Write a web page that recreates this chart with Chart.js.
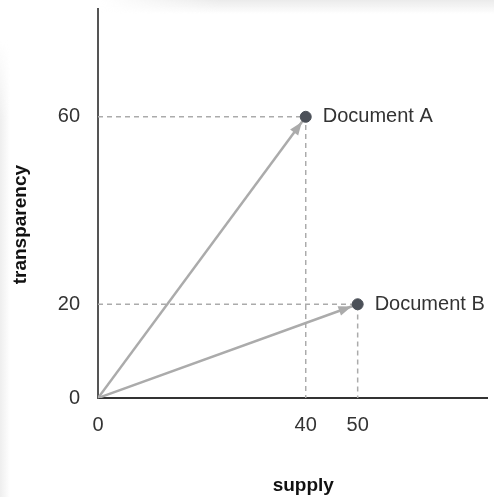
<!DOCTYPE html>
<html>
<head>
<meta charset="utf-8">
<script src="https://cdn.jsdelivr.net/npm/chart.js@4"></script>
<style>
  body { margin: 0; background: #fff; }
  #wrap { position: relative; width: 494px; height: 497px; overflow: hidden; }
  .shade-top { position: absolute; left: 100px; top: 0; width: 394px; height: 14px;
    background: linear-gradient(to bottom, #ebebeb, rgba(255,255,255,0));
    -webkit-mask-image: linear-gradient(to right, transparent, #000 120px);
    mask-image: linear-gradient(to right, transparent, #000 120px); }
  .shade-left { position: absolute; left: 0; top: 40px; width: 10px; height: 457px;
    background: linear-gradient(to right, #eeeeee, rgba(255,255,255,0));
    -webkit-mask-image: linear-gradient(to bottom, transparent, #000 80px);
    mask-image: linear-gradient(to bottom, transparent, #000 80px); }
  canvas { position: absolute; left: 0; top: 0; }
</style>
</head>
<body>
<div id="wrap">
  <div class="shade-top"></div>
  <div class="shade-left"></div>
  <canvas id="chart" width="494" height="497"></canvas>
</div>
<script>
// values
var docNames = ['Document A', 'Document B'];
var supply = [40, 50];
var transparency = [60, 20];
var xTicks = [0, 40, 50];
var yTicks = [0, 20, 60];

var arrowColor = '#ababab';
var guideColor = '#ababab';
var dotColor = '#4b5058';
var textColor = '#333333';
var fontFamily = '"Liberation Sans", Arial, Helvetica, sans-serif';

var datasets = [];

// dashed guide lines from each document to both axes
docNames.forEach(function (name, i) {
    datasets.push({
        type: 'line',
        label: name + ' guide',
        data: [{ x: 0, y: transparency[i] }, { x: supply[i], y: transparency[i] }, { x: supply[i], y: 0 }],
        borderColor: guideColor,
        borderWidth: 1.5,
        borderDash: [5, 4],
        pointRadius: 0,
        fill: false,
        order: 3
    });
});

// vectors from the origin
docNames.forEach(function (name, i) {
    datasets.push({
        type: 'line',
        label: name + ' vector',
        isArrow: true,
        data: [{ x: 0, y: 0 }, { x: supply[i], y: transparency[i] }],
        borderColor: arrowColor,
        borderWidth: 2.5,
        pointRadius: 0,
        fill: false,
        order: 2
    });
});

// the documents themselves
datasets.push({
    type: 'scatter',
    label: 'documents',
    isDocs: true,
    data: supply.map(function (s, i) { return { x: s, y: transparency[i] }; }),
    backgroundColor: dotColor,
    borderColor: dotColor,
    pointRadius: 5.5,
    pointHoverRadius: 5.5,
    order: 1
});

var arrowsAndLabels = {
    id: 'arrowsAndLabels',
    afterDatasetsDraw: function (chart) {
        var ctx = chart.ctx;
        ctx.save();
        chart.data.datasets.forEach(function (ds, di) {
            var meta = chart.getDatasetMeta(di);
            if (ds.isArrow) {
                var p0 = meta.data[0], p1 = meta.data[1];
                var ang = Math.atan2(p1.y - p0.y, p1.x - p0.x);
                var tipX = p1.x - Math.cos(ang) * 6.5;
                var tipY = p1.y - Math.sin(ang) * 6.5;
                var len = 13, half = 5;
                var bx = tipX - Math.cos(ang) * len, by = tipY - Math.sin(ang) * len;
                ctx.fillStyle = arrowColor;
                ctx.beginPath();
                ctx.moveTo(tipX, tipY);
                ctx.lineTo(bx + Math.sin(ang) * half, by - Math.cos(ang) * half);
                ctx.lineTo(bx - Math.sin(ang) * half, by + Math.cos(ang) * half);
                ctx.closePath();
                ctx.fill();
            }
            if (ds.isDocs) {
                ctx.fillStyle = textColor;
                ctx.font = '20px ' + fontFamily;
                ctx.textAlign = 'left';
                ctx.textBaseline = 'middle';
                meta.data.forEach(function (pt, i) {
                    ctx.fillText(docNames[i], pt.x + 17, pt.y);
                });
            }
        });
        ctx.restore();
    }
};

var ctx = document.getElementById('chart').getContext('2d');
var chart = new Chart(ctx, {
    data: { datasets: datasets },
    options: {
        responsive: false,
        animation: false,
        events: [],
        layout: { padding: { left: 9, top: 9, right: 3, bottom: 0 } },
        plugins: { legend: { display: false }, tooltip: { enabled: false } },
        scales: {
            x: {
                type: 'linear',
                min: 0,
                max: 75,
                grid: { display: false, drawTicks: false },
                border: { display: true, color: '#333333', width: 2 },
                afterBuildTicks: function (scale) {
                    scale.ticks = xTicks.map(function (v) { return { value: v }; });
                },
                afterFit: function (scale) {
                    scale.height = 99;
                    scale.paddingLeft = 0;
                    scale.paddingRight = 0;
                },
                ticks: {
                    padding: 15,
                    color: textColor,
                    font: { family: fontFamily, size: 20 },
                    maxRotation: 0,
                    autoSkip: false
                },
                title: {
                    display: true,
                    text: '    supply',
                    color: '#111111',
                    padding: 0,
                    font: { family: fontFamily, size: 19, weight: 'bold' }
                }
            },
            y: {
                type: 'linear',
                min: 0,
                max: 83,
                grid: { display: false, drawTicks: false },
                border: { display: true, color: '#555555', width: 2 },
                afterBuildTicks: function (scale) {
                    scale.ticks = yTicks.map(function (v) { return { value: v }; });
                },
                afterFit: function (scale) {
                    scale.width = 89;
                    scale.paddingTop = 0;
                    scale.paddingBottom = 0;
                },
                ticks: {
                    padding: 18,
                    color: textColor,
                    font: { family: fontFamily, size: 20 },
                    autoSkip: false
                },
                title: {
                    display: true,
                    text: 'transparency        ',
                    color: '#111111',
                    padding: 0,
                    font: { family: fontFamily, size: 19, weight: 'bold' }
                }
            }
        }
    },
    plugins: [arrowsAndLabels]
});
</script>
</body>
</html>
